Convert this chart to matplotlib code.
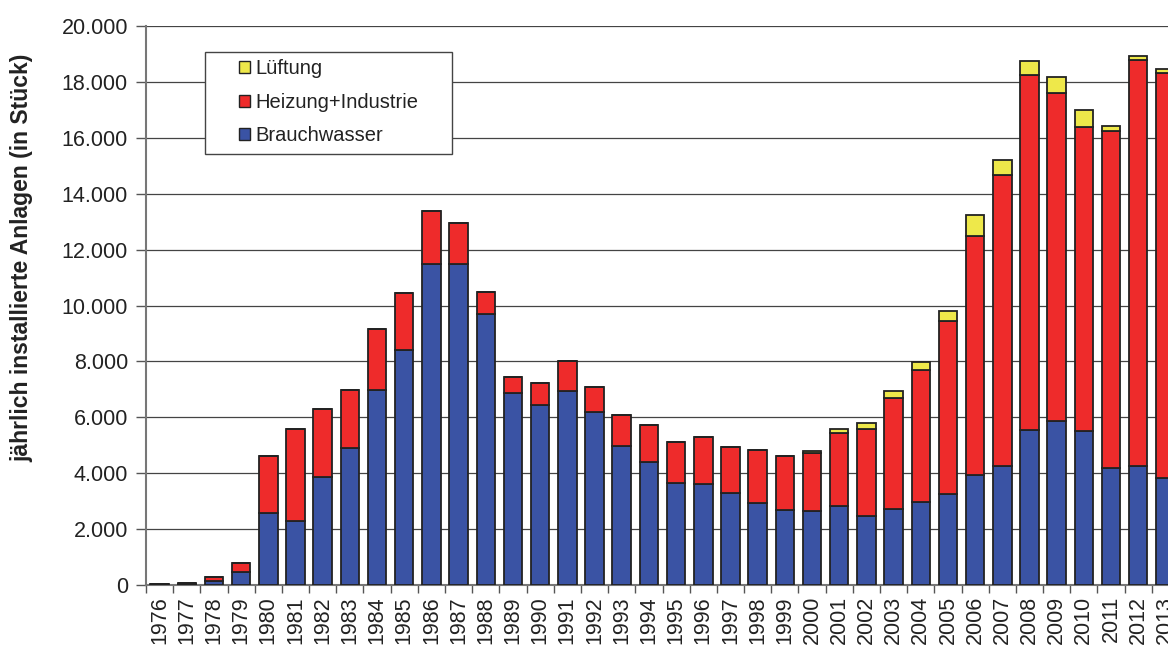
import matplotlib
matplotlib.use("Agg")
import matplotlib.pyplot as plt
from matplotlib.patches import Patch, Rectangle
from matplotlib.ticker import FuncFormatter, FixedLocator
import numpy as np

plt.rcParams['font.family'] = ['Liberation Sans', 'DejaVu Sans']

years = [str(y) for y in range(1976, 2014)]
brauchwasser = [20, 40, 140, 455, 2570, 2300, 3880, 4885, 6990, 8420,
                11500, 11500, 9710, 6880, 6450, 6950, 6200, 4980, 4410, 3655,
                3620, 3300, 2940, 2690, 2650, 2830, 2470, 2730, 2970, 3250,
                3920, 4240, 5555, 5850, 5495, 4190, 4260, 3830]
heiz_total = [30, 60, 300, 800, 4600, 5590, 6300, 6965, 9175, 10430,
              13370, 12940, 10500, 7455, 7240, 8030, 7100, 6090, 5730, 5125,
              5300, 4950, 4840, 4620, 4740, 5450, 5590, 6690, 7700, 9460,
              12470, 14670, 18250, 17590, 16400, 16240, 18770, 18320]
gesamt = [30, 60, 300, 800, 4600, 5590, 6300, 6965, 9175, 10430,
          13370, 12940, 10500, 7455, 7240, 8030, 7100, 6090, 5730, 5125,
          5300, 4950, 4840, 4620, 4800, 5590, 5800, 6930, 7990, 9820,
          13230, 15200, 18760, 18180, 16990, 16430, 18910, 18460]
heizung = [h - b for h, b in zip(heiz_total, brauchwasser)]
lueftung = [g - h for g, h in zip(gesamt, heiz_total)]

c_blue = '#3A53A4'
c_red = '#EE2B2B'
c_yel = '#EEE84A'
edge = '#222222'

W, H = 1168, 646
fig = plt.figure(figsize=(W / 100, H / 100), dpi=100)
ax = fig.add_axes([146 / W, 61 / H, (1179 - 146) / W, 559 / H])

x = np.arange(len(years))
bw = 0.68
ax.bar(x, brauchwasser, bw, color=c_blue, edgecolor=edge, linewidth=1.3, zorder=3)
ax.bar(x, heizung, bw, bottom=brauchwasser, color=c_red, edgecolor=edge, linewidth=1.3, zorder=3)
ax.bar(x, lueftung, bw, bottom=heiz_total, color=c_yel, edgecolor=edge, linewidth=1.3, zorder=3)

ax.set_xlim(-0.5, len(years) - 0.5)
ax.set_ylim(0, 20000)
ax.set_yticks(np.arange(0, 20001, 2000))
ax.yaxis.set_major_formatter(FuncFormatter(lambda v, p: f"{int(v):,}".replace(',', '.')))
ax.grid(axis='y', color='#444444', linewidth=0.9, zorder=0)

ax.set_xticks(x)
ax.set_xticklabels(years, rotation=90, va='top', ha='center')
ax.xaxis.set_minor_locator(FixedLocator(np.arange(-0.5, len(years), 1.0)))
ax.tick_params(axis='x', which='major', length=0, pad=8, labelsize=15.5, colors='#222222')
ax.tick_params(axis='x', which='minor', length=6, width=1, color='#555555')
ax.tick_params(axis='y', length=7, width=1, color='#555555', labelsize=15.5, pad=6, labelcolor='#222222')

for s in ['top', 'right']:
    ax.spines[s].set_visible(False)
for s in ['left', 'bottom']:
    ax.spines[s].set_color('#777777')
    ax.spines[s].set_linewidth(1.5)

ax.set_ylabel('jährlich installierte Anlagen (in Stück)', fontsize=16.5, fontweight='bold',
              color='#222222')
ax.yaxis.set_label_coords((33 - 146) / 1033, (585 - 258) / 559)

# legend frame (white box) in figure pixel positions
fig.add_artist(Rectangle((205 / W, 1 - 154 / H), (452 - 205) / W, (154 - 52) / H,
                         transform=fig.transFigure, facecolor='white',
                         edgecolor='#444444', linewidth=1.0, zorder=4))

handles = [Patch(facecolor=c_yel, edgecolor=edge, label='Lüftung'),
           Patch(facecolor=c_red, edgecolor=edge, label='Heizung+Industrie'),
           Patch(facecolor=c_blue, edgecolor=edge, label='Brauchwasser')]
leg = fig.legend(handles=handles, loc='upper left',
                 bbox_to_anchor=(239 / W, 1 - 59 / H),
                 bbox_transform=fig.transFigure, borderaxespad=0, borderpad=0,
                 fontsize=14.5, handlelength=0.55, handleheight=0.55, handletextpad=0.25,
                 labelspacing=0.73, frameon=False)
leg.set_zorder(5)
for t in leg.get_texts():
    t.set_color('#222222')

fig.savefig('out.png', dpi=100)
